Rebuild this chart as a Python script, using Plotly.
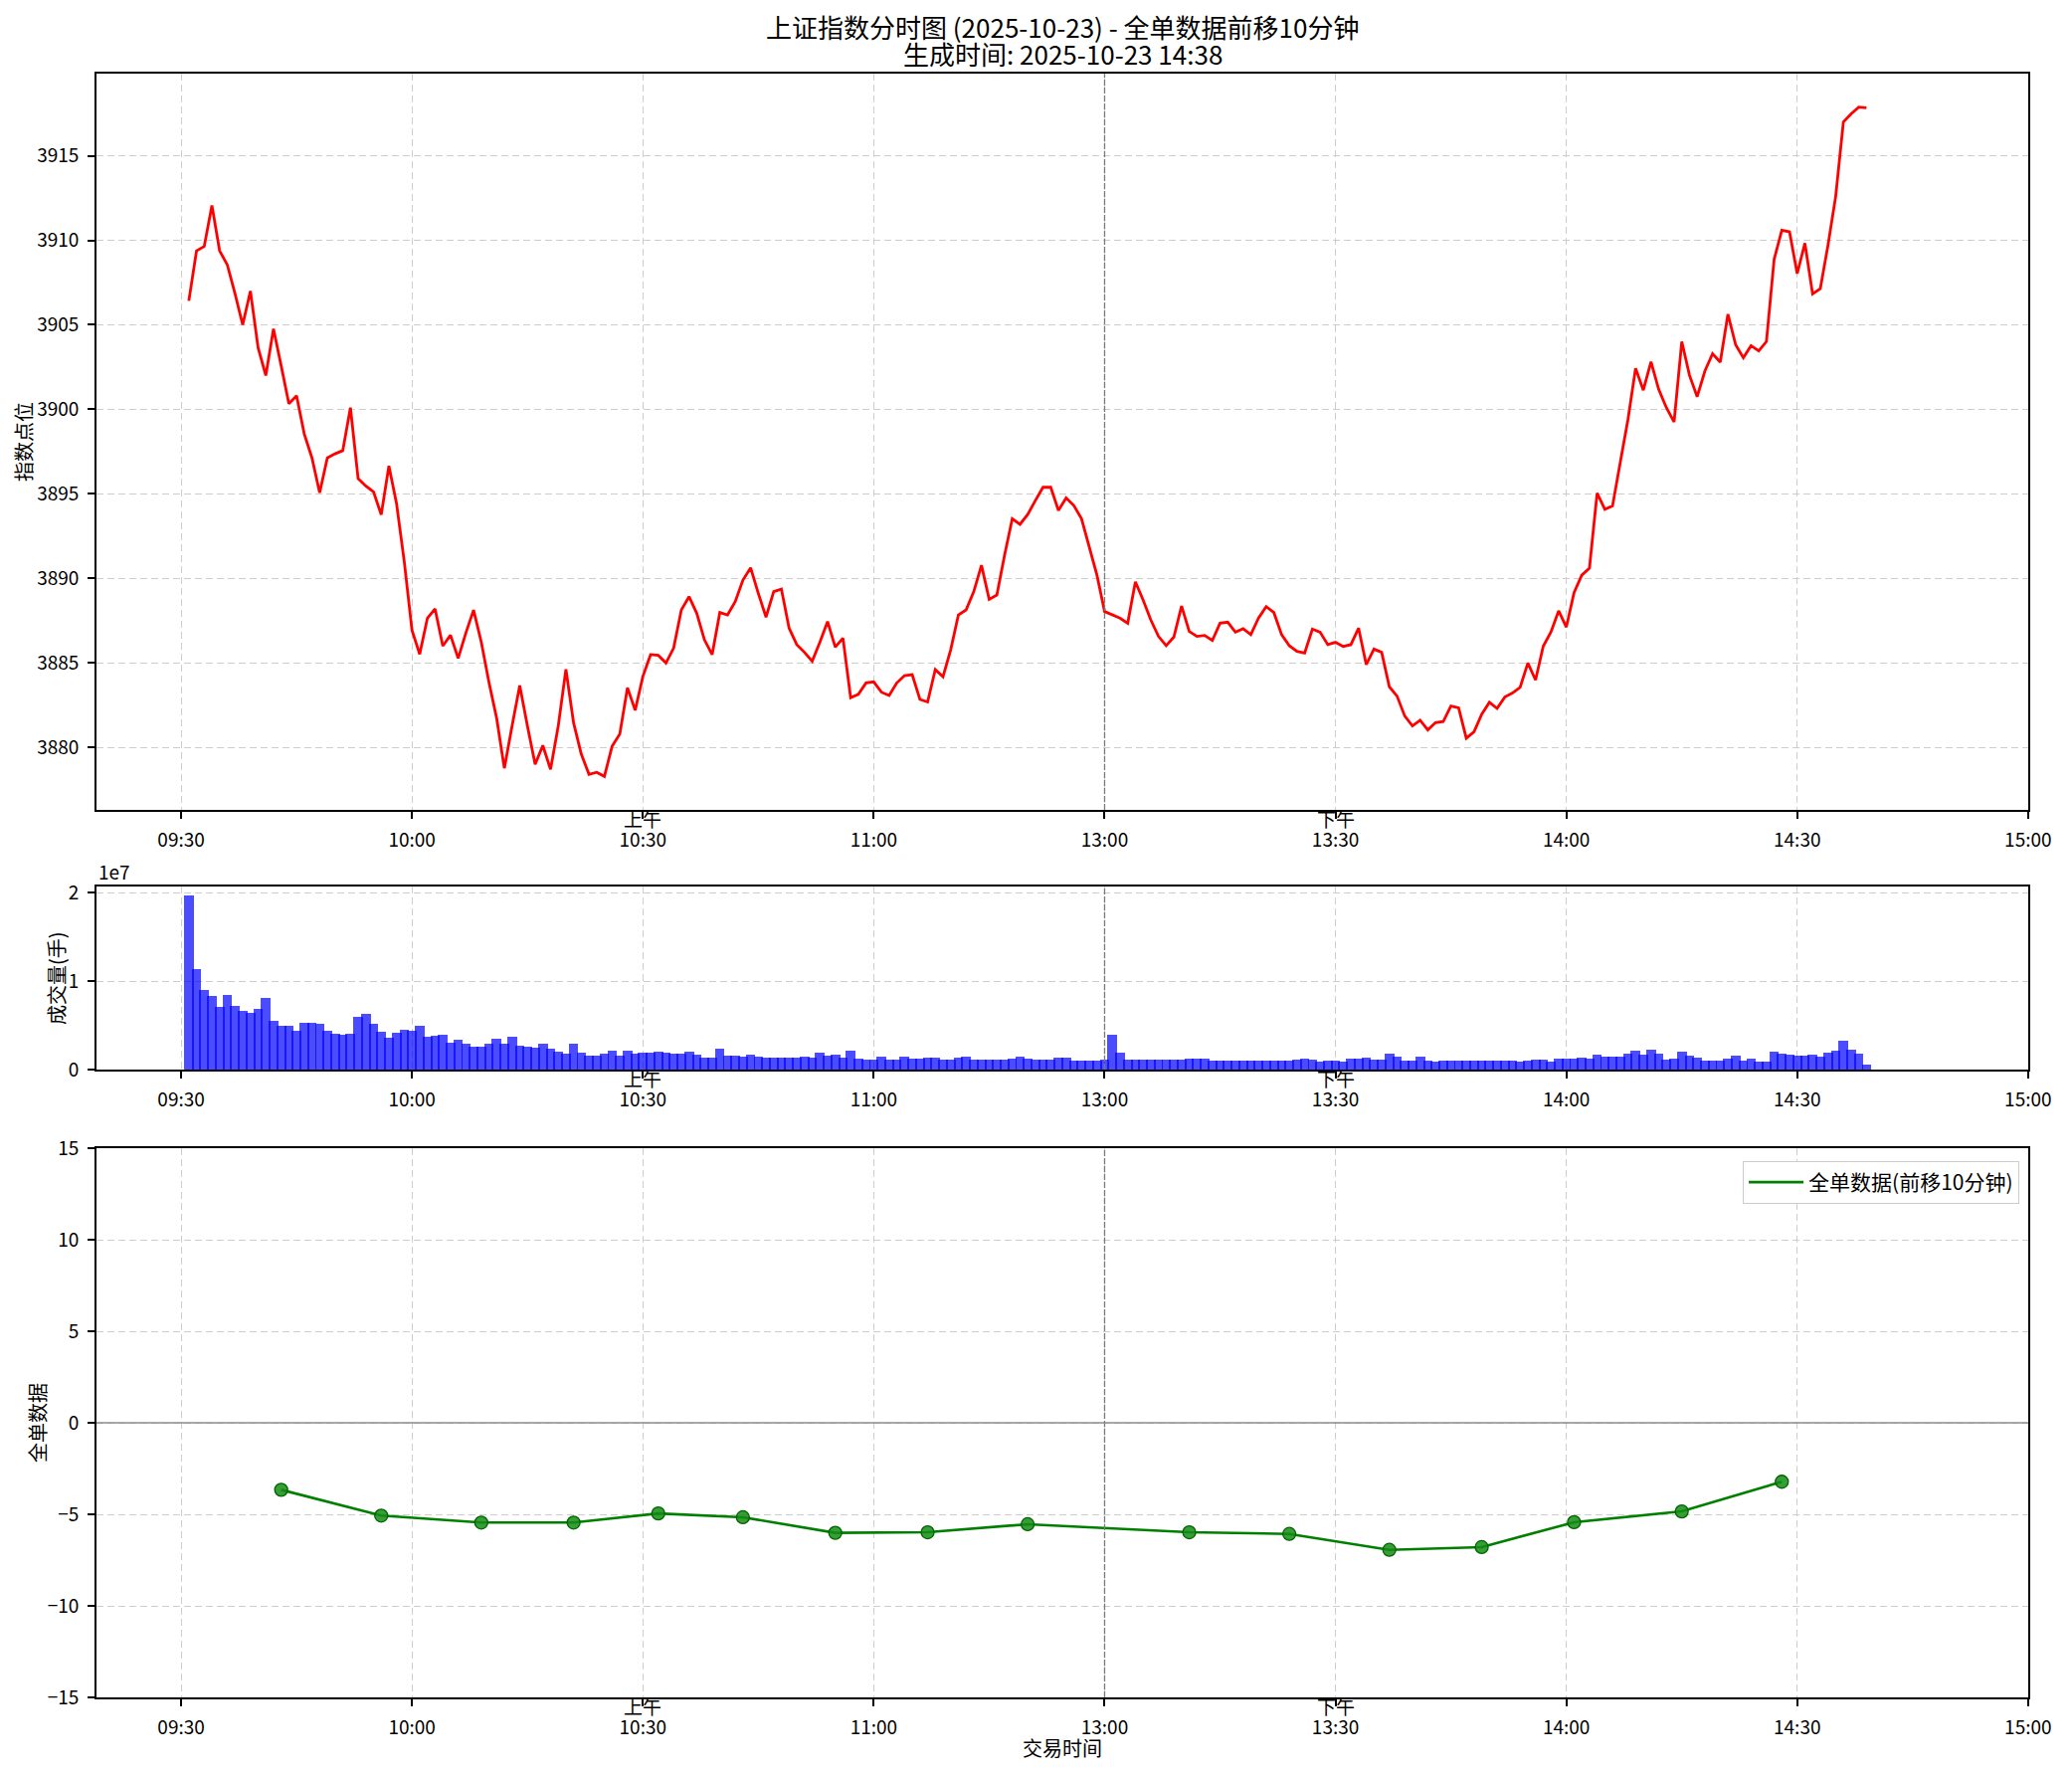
import plotly.graph_objects as go
from plotly.subplots import make_subplots
import pandas as pd

# 上证指数 1分钟点位 (从 09:31 开始)
price = [
    3906.42, 3909.38, 3909.64, 3912.06, 3909.38, 3908.55, 3906.85, 3905.00, 3907.00, 3903.65,
    3902.00, 3904.76, 3902.58, 3900.33, 3900.80, 3898.55, 3897.13, 3895.07, 3897.13, 3897.37,
    3897.56, 3900.10, 3895.90, 3895.47, 3895.12, 3893.77, 3896.66, 3894.40, 3890.97, 3886.94,
    3885.52, 3887.65, 3888.20, 3886.00, 3886.64, 3885.28, 3886.78, 3888.13, 3886.24, 3883.86,
    3881.73, 3878.77, 3881.26, 3883.67, 3881.26, 3879.00, 3880.12, 3878.70, 3881.26, 3884.62,
    3881.45, 3879.60, 3878.41, 3878.53, 3878.29, 3880.07, 3880.80, 3883.53, 3882.20, 3884.20,
    3885.49, 3885.45, 3885.00, 3885.88, 3888.14, 3888.92, 3887.94, 3886.37, 3885.49, 3887.98,
    3887.84, 3888.63, 3889.90, 3890.63, 3889.12, 3887.71, 3889.22, 3889.37, 3887.06, 3886.08,
    3885.63, 3885.10, 3886.22, 3887.45, 3885.94, 3886.47, 3882.94, 3883.14, 3883.82, 3883.88,
    3883.27, 3883.08, 3883.82, 3884.25, 3884.31, 3882.84, 3882.69, 3884.61, 3884.18, 3885.78,
    3887.84, 3888.14, 3889.22, 3890.78, 3888.76, 3889.02, 3891.37, 3893.53, 3893.20, 3893.78,
    3894.60, 3895.39, 3895.39, 3894.02, 3894.76, 3894.31, 3893.53, 3891.86, 3890.20, 3888.04,
    3887.84, 3887.65, 3887.35, 3889.80, 3888.73, 3887.55, 3886.57, 3886.02, 3886.53, 3888.37,
    3886.86, 3886.57, 3886.63, 3886.33, 3887.35, 3887.41, 3886.82, 3887.02, 3886.67, 3887.65,
    3888.33, 3887.98, 3886.67, 3886.02, 3885.69, 3885.59, 3887.00, 3886.82, 3886.08, 3886.22,
    3885.98, 3886.08, 3887.06, 3884.90, 3885.82, 3885.63, 3883.59, 3883.04, 3881.86, 3881.27,
    3881.61, 3881.04, 3881.47, 3881.53, 3882.45, 3882.35, 3880.55, 3880.92, 3881.96, 3882.67,
    3882.31, 3882.98, 3883.22, 3883.56, 3885.00, 3883.99, 3885.99, 3886.83, 3888.08, 3887.12,
    3889.16, 3890.19, 3890.60, 3895.05, 3894.09, 3894.28, 3896.85, 3899.38, 3902.43, 3901.13,
    3902.81, 3901.18, 3900.10, 3899.25, 3904.01, 3902.02, 3900.75, 3902.26, 3903.29, 3902.79,
    3905.63, 3903.82, 3903.05, 3903.77, 3903.46, 3904.01, 3908.87, 3910.60, 3910.50, 3908.03,
    3909.83, 3906.83, 3907.14, 3909.71, 3912.60, 3917.00, 3917.48, 3917.88, 3917.84,
]

# 成交量 (单位: 1e7 手)
volume = [
    1.970, 1.133, 0.897, 0.829, 0.705, 0.844, 0.717, 0.664, 0.642, 0.687,
    0.807, 0.552, 0.492, 0.492, 0.439, 0.529, 0.529, 0.514, 0.439, 0.405,
    0.398, 0.405, 0.593, 0.630, 0.518, 0.428, 0.360, 0.417, 0.447, 0.439,
    0.495, 0.371, 0.383, 0.394, 0.308, 0.338, 0.289, 0.259, 0.259, 0.293,
    0.349, 0.296, 0.371, 0.270, 0.259, 0.248, 0.293, 0.240, 0.203, 0.180,
    0.293, 0.191, 0.158, 0.158, 0.180, 0.214, 0.158, 0.214, 0.180, 0.191,
    0.191, 0.203, 0.191, 0.180, 0.180, 0.203, 0.169, 0.135, 0.135, 0.236,
    0.158, 0.158, 0.150, 0.169, 0.146, 0.135, 0.135, 0.135, 0.135, 0.135,
    0.146, 0.140, 0.191, 0.158, 0.169, 0.135, 0.214, 0.124, 0.113, 0.113,
    0.146, 0.113, 0.113, 0.146, 0.124, 0.124, 0.135, 0.135, 0.113, 0.113,
    0.135, 0.146, 0.113, 0.113, 0.113, 0.113, 0.113, 0.124, 0.146, 0.124,
    0.113, 0.113, 0.113, 0.135, 0.135, 0.101, 0.101, 0.101, 0.101, 0.113,
    0.394, 0.191, 0.113, 0.113, 0.113, 0.113, 0.113, 0.113, 0.113, 0.113,
    0.124, 0.124, 0.124, 0.101, 0.101, 0.101, 0.101, 0.101, 0.101, 0.101,
    0.101, 0.101, 0.101, 0.101, 0.113, 0.124, 0.110, 0.090, 0.101, 0.101,
    0.090, 0.124, 0.124, 0.135, 0.113, 0.113, 0.180, 0.146, 0.101, 0.101,
    0.146, 0.101, 0.090, 0.101, 0.101, 0.101, 0.101, 0.101, 0.101, 0.101,
    0.101, 0.101, 0.101, 0.090, 0.101, 0.113, 0.113, 0.090, 0.124, 0.124,
    0.124, 0.135, 0.124, 0.169, 0.146, 0.146, 0.150, 0.180, 0.214, 0.169,
    0.225, 0.180, 0.113, 0.124, 0.203, 0.158, 0.135, 0.101, 0.101, 0.101,
    0.124, 0.158, 0.101, 0.124, 0.090, 0.090, 0.203, 0.180, 0.169, 0.158,
    0.158, 0.169, 0.146, 0.191, 0.214, 0.326, 0.225, 0.180, 0.056,
]

# 全单数据 (前移10分钟)
flow_time = ['09:43', '09:56', '10:09', '10:21', '10:32', '10:43', '10:55', '11:07',
             '11:20', '13:11', '13:24', '13:37', '13:49', '14:01', '14:15', '14:28']
flow_value = [-3.66, -5.07, -5.45, -5.45, -4.95, -5.16, -6.01, -5.98,
              -5.54, -5.98, -6.07, -6.94, -6.79, -5.43, -4.84, -3.22]

tick_labels = ['09:30', '10:00', '10:30', '11:00', '13:00', '13:30', '14:00', '14:30', '15:00']

FONT = 'Noto Sans CJK SC, Noto Sans, sans-serif'


# 时间 -> 交易分钟序号 (午休压缩掉)
def to_slot(hhmm):
    h, m = map(int, hhmm.split(':'))
    t = h * 60 + m
    if t <= 11 * 60 + 30:
        return t - (9 * 60 + 30)
    return t - 13 * 60 + 120


am = pd.date_range('2025-10-23 09:31', '2025-10-23 11:30', freq='1min')
pm = pd.date_range('2025-10-23 13:01', '2025-10-23 15:00', freq='1min')
minute_times = [t.strftime('%H:%M') for t in list(am) + list(pm)]
price_x = [to_slot(t) for t in minute_times[:len(price)]]
vol_x = [to_slot(t) for t in minute_times[:len(volume)]]
flow_x = [to_slot(t) for t in flow_time]
tick_x = [to_slot(t) for t in tick_labels]

fig = make_subplots(rows=3, cols=1)

fig.add_trace(go.Scatter(x=price_x, y=price, mode='lines',
                         line=dict(color='red', width=2.8), showlegend=False), row=1, col=1)
fig.add_trace(go.Bar(x=vol_x, y=volume, width=1.25,
                     marker=dict(color='rgba(0,0,255,0.7)', line=dict(width=0)),
                     showlegend=False), row=2, col=1)
fig.add_trace(go.Scatter(x=flow_x, y=flow_value, mode='lines', name='全单数据(前移10分钟)',
                         line=dict(color='green', width=2.6)), row=3, col=1)
fig.add_trace(go.Scatter(x=flow_x, y=flow_value, mode='markers', showlegend=False,
                         marker=dict(size=13, color='rgba(20,140,20,0.85)',
                                     line=dict(color='#006400', width=1.3))), row=3, col=1)

axis_common = dict(showline=True, mirror=True, linecolor='black', linewidth=1.6,
                   ticks='outside', ticklen=7, tickwidth=1.5, tickcolor='black',
                   showgrid=True, gridcolor='#cdcdcd', griddash='7px,4px', gridwidth=1.2,
                   zeroline=False, tickfont=dict(family=FONT, size=19, color='black'),
                   ticklabelstandoff=5)

for i in (1, 2, 3):
    fig.update_xaxes(range=[-11, 240.02], tickvals=tick_x, ticktext=tick_labels,
                     row=i, col=1, **axis_common)

fig.update_yaxes(range=[3876.31, 3919.86], tickvals=[3880, 3885, 3890, 3895, 3900, 3905, 3910, 3915],
                 row=1, col=1, **axis_common)
fig.update_yaxes(range=[0, 2.07], tickvals=[0, 1, 2], ticktext=['0', '1', '2'],
                 row=2, col=1, **axis_common)
fig.update_yaxes(range=[-15, 15], tickvals=[-15, -10, -5, 0, 5, 10, 15],
                 row=3, col=1, **axis_common)

fig.update_layout(
    yaxis=dict(domain=[0.5466, 1.0]),
    yaxis2=dict(domain=[0.3866, 0.4994]),
    yaxis3=dict(domain=[0.0, 0.3382]),
    xaxis=dict(domain=[0, 1]), xaxis2=dict(domain=[0, 1]), xaxis3=dict(domain=[0, 1]),
)

# 午盘分界线
for r in (1, 2, 3):
    fig.add_vline(x=120, line=dict(color='#7a7a7a', width=1.3, dash='6px,2px'), row=r, col=1)
fig.add_hline(y=0, line=dict(color='#8c8c8c', width=1.6), row=3, col=1)

ann = []
# 上午/下午 标记
for xr, yr in (('x', 'y domain'), ('x2', 'y2 domain'), ('x3', 'y3 domain')):
    for xv, txt in ((to_slot('10:30'), '上午'), (to_slot('13:30'), '下午')):
        ann.append(dict(x=xv, y=0, xref=xr, yref=yr, text=txt, showarrow=False,
                        xanchor='center', yanchor='top', yshift=7,
                        font=dict(family=FONT, size=19, color='black')))

# 标题
ann.append(dict(x=0.5, y=1, xref='paper', yref='paper', xanchor='center', yanchor='middle',
                yshift=48, text='上证指数分时图 (2025-10-23) - 全单数据前移10分钟', showarrow=False,
                font=dict(family=FONT, size=26, color='black')))
ann.append(dict(x=0.5, y=1, xref='paper', yref='paper', xanchor='center', yanchor='middle',
                yshift=21, text='生成时间: 2025-10-23 14:38', showarrow=False,
                font=dict(family=FONT, size=26, color='black')))

# 坐标轴标题
label_font = dict(family=FONT, size=20, color='black')
ann.append(dict(x=0, y=0.7733, xref='paper', yref='paper', xanchor='center', yanchor='middle',
                xshift=-73, textangle=-90, text='指数点位', showarrow=False, font=label_font))
ann.append(dict(x=0, y=0.443, xref='paper', yref='paper', xanchor='center', yanchor='middle',
                xshift=-41, textangle=-90, text='成交量(手)', showarrow=False, font=label_font))
ann.append(dict(x=0, y=0.1691, xref='paper', yref='paper', xanchor='center', yanchor='middle',
                xshift=-60, textangle=-90, text='全单数据', showarrow=False, font=label_font))
ann.append(dict(x=0.5, y=0, xref='paper', yref='paper', xanchor='center', yanchor='middle',
                yshift=-50, text='交易时间', showarrow=False, font=label_font))
ann.append(dict(x=0, y=0.4994, xref='paper', yref='paper', xanchor='left', yanchor='bottom',
                yshift=0, text='1e7', showarrow=False, font=dict(family=FONT, size=19, color='black')))

# 页面自带 8px 边距, 图幅相应缩小
fig.update_layout(
    width=2067, height=1767,
    margin=dict(l=89, r=31, t=66, b=69),
    paper_bgcolor='white', plot_bgcolor='white',
    annotations=ann,
    bargap=0,
    legend=dict(x=0.9954, y=0.3303, xanchor='right', yanchor='top',
                bgcolor='white', bordercolor='#cccccc', borderwidth=1,
                font=dict(family=FONT, size=21, color='black'), itemwidth=55),
    font=dict(family=FONT, size=19, color='black'),
)

fig.write_html("out.html")
